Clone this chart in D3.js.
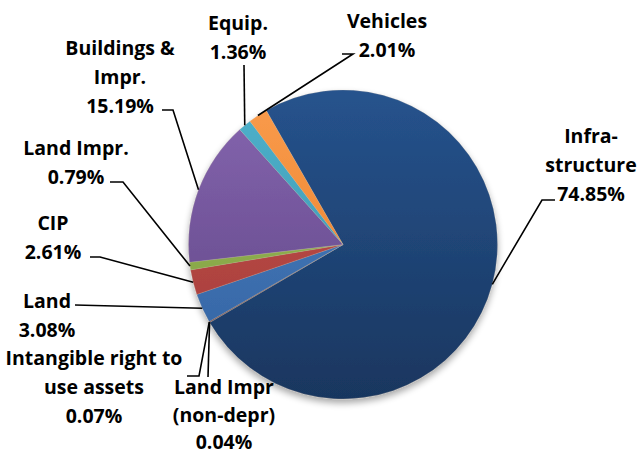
<!DOCTYPE html>
<html><head><meta charset="utf-8">
<script src="https://cdn.jsdelivr.net/npm/d3@7"></script>
<style>body{margin:0;background:#fff;}svg{display:block;}</style>
</head><body>
<svg id="chart" width="639" height="456"></svg>
<script>
const categories = ["Infrastructure","Land Impr (non-depr)","Intangible right to use assets","Land","CIP","Land Impr.","Buildings & Impr.","Equip.","Vehicles"];
const labelLines = [["Infra-","structure"],["Land Impr","(non-depr)"],["Intangible right to","use assets"],["Land"],["CIP"],["Land Impr."],["Buildings &","Impr."],["Equip."],["Vehicles"]];
const values = [74.85,0.04,0.07,3.08,2.61,0.79,15.19,1.36,2.01];
const colorsTop = ["#26538d","#2c4d75","#772c2a","#4a80c2","#c7524f","#9fc15a","#8666b0","#4fb2cc","#fa9c4c"];
const colorsBot = ["#19365f","#203a5a","#5a1f1e","#3262a0","#a03a37","#7a983e","#5c4282","#378ea8","#e57b26"];

// layout (label anchor = centre of text block, first-line centre y; leader: [x,y] points from label to pie)
const labelPos = [
  {x:591,y:135, lh:29, leader:[[555,200],[542,200]]},
  {x:224,y:386, lh:27.5, leader:[[208,377]]},
  {x:94,y:357, lh:29, leader:[[187,376],[199,376]]},
  {x:47,y:300, lh:29, leader:[[75,305]]},
  {x:53,y:222, lh:29, leader:[[90,257],[100,257]]},
  {x:76,y:147, lh:29, leader:[[110,182],[123,182]]},
  {x:120,y:47, lh:29, leader:[[162,110],[173,110]]},
  {x:238,y:22, lh:29, leader:[[244,65]]},
  {x:387,y:20, lh:29, leader:[[342,54],[353,54]]}
];

const svg = d3.select("#chart");
const cx = 343, cy = 244.5, r = 154.5;
const startDeg = -29.8;

const defs = svg.append("defs");
const f = defs.append("filter").attr("id","sh").attr("x","-20%").attr("y","-20%").attr("width","140%").attr("height","140%");
f.append("feGaussianBlur").attr("in","SourceAlpha").attr("stdDeviation",3.5).attr("result","b");
f.append("feOffset").attr("in","b").attr("dy",4).attr("result","o");
f.append("feComponentTransfer").attr("in","o").attr("result","o2").append("feFuncA").attr("type","linear").attr("slope",0.35);
const m = f.append("feMerge"); m.append("feMergeNode").attr("in","o2"); m.append("feMergeNode").attr("in","SourceGraphic");

values.forEach((v,i)=>{
  const g = defs.append("linearGradient").attr("id","g"+i).attr("gradientUnits","userSpaceOnUse")
    .attr("x1",0).attr("y1",-r).attr("x2",0).attr("y2",r);
  g.append("stop").attr("offset","0%").attr("stop-color",colorsTop[i]);
  g.append("stop").attr("offset","100%").attr("stop-color",colorsBot[i]);
});

const pie = d3.pie().sort(null).value(d=>d)
  .startAngle(startDeg*Math.PI/180).endAngle(startDeg*Math.PI/180+2*Math.PI);
const arcs = pie(values);
const arc = d3.arc().innerRadius(0).outerRadius(r);

const pg = svg.append("g").attr("transform",`translate(${cx},${cy})`).attr("filter","url(#sh)");
pg.selectAll("path").data(arcs).join("path")
  .attr("d",arc).attr("fill",(d,i)=>`url(#g${i})`)
  .attr("stroke","rgba(200,190,170,0.35)").attr("stroke-width",0.6);

// leader lines
const lg = svg.append("g");
arcs.forEach((d,i)=>{
  const mid = (d.startAngle+d.endAngle)/2;
  const px = cx + r*Math.sin(mid), py = cy - r*Math.cos(mid);
  const pts = labelPos[i].leader.concat([[px,py]]);
  lg.append("path").attr("d",d3.line()(pts)).attr("fill","none")
    .attr("stroke","#000").attr("stroke-width",1.6);
});

// labels
const tg = svg.append("g").attr("font-family","'Open Sans', Lato, sans-serif")
  .attr("font-weight","bold").attr("font-size",19.5).attr("fill","#000").attr("text-anchor","middle");
arcs.forEach((d,i)=>{
  const lines = labelLines[i].concat([values[i].toFixed(2)+"%"]);
  const p = labelPos[i];
  const t = tg.append("text").attr("x",p.x).attr("y",p.y).attr("dominant-baseline","central");
  lines.forEach((s,k)=>{
    t.append("tspan").attr("x",p.x).attr("y",p.y+k*p.lh).text(s);
  });
});
</script>
</body></html>
